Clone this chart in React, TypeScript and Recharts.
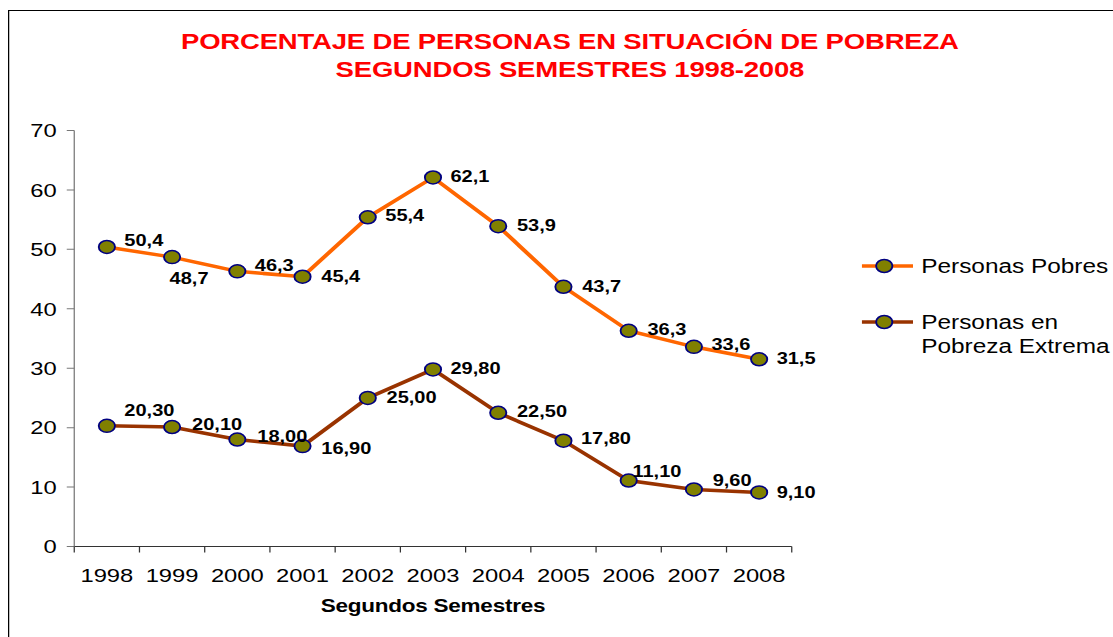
import { LineChart, Line, XAxis, YAxis, Legend, LabelList } from 'recharts'

const years = ['1998', '1999', '2000', '2001', '2002', '2003', '2004', '2005', '2006', '2007', '2008']
const pobres = [50.4, 48.7, 46.3, 45.4, 55.4, 62.1, 53.9, 43.7, 36.3, 33.6, 31.5]
const extrema = [20.3, 20.1, 18.0, 16.9, 25.0, 29.8, 22.5, 17.8, 11.1, 9.6, 9.1]
const yTicks = [0, 10, 20, 30, 40, 50, 60, 70]

const series = [
    { key: 'pobres', name: 'Personas Pobres', color: '#FF6600', decimals: 1 },
    { key: 'extrema', name: 'Personas en Pobreza Extrema', color: '#993300', decimals: 2 },
]

const rows = years.map((year, i) => ({ i, year, pobres: pobres[i], extrema: extrema[i] }))
// ticks at centres (labels) and at category boundaries (tick marks)
const xTicks = [-0.5, ...years.flatMap((_, i) => [i, i + 0.5])]

// label nudges per point, [dx, dy]
const labelNudge: Record<string, [number, number][]> = {
    pobres: [[14, -7], [-2, 21], [14, -6], [15, 0], [14, -2], [14, -1], [15, -1], [15, 0], [15, -1], [14, -2], [14, -1]],
    extrema: [[14, -15], [16, -3], [16, -3], [15, 2], [15, -1], [14, -1], [15, -1], [14, -2], [3, -9], [15, -9], [14, 0]],
}

const font = '"Liberation Sans", Arial, sans-serif'
const dotStyle = { r: 6.5, fill: '#808000', stroke: '#000080', strokeWidth: 1.5 }

const YearTick = (props: any) => {
    const { x, y, payload } = props
    const v = payload.value
    if (Number.isInteger(v)) {
        return (
            <text x={x} y={y + 35.5} textAnchor="middle" fontSize={19} fill="#000" fontFamily={font}>
                {years[v]}
            </text>
        )
    }
    return <line x1={x} x2={x} y1={y} y2={y + 6} stroke="#333" strokeWidth={1} />
}

const makeLabel = (key: string, decimals: number) => (props: any) => {
    const { x, y, value, index } = props
    const [dx, dy] = labelNudge[key][index] ?? [14, 0]
    return (
        <text
            x={x + dx}
            y={y + dy}
            dy="0.35em"
            textAnchor="start"
            fontSize={16}
            fontWeight="bold"
            fill="#000"
            fontFamily={font}
        >
            {Number(value).toFixed(decimals).replace('.', ',')}
        </text>
    )
}

const LegendContent = () => (
    <div style={{ fontSize: 19.5, lineHeight: '24px', color: '#000', fontFamily: font }}>
        {series.map((s, k) => (
            <div key={s.key} style={{ display: 'flex', alignItems: 'flex-start', marginTop: k ? 32 : 0 }}>
                <svg width={48} height={24} style={{ flex: 'none' }}>
                    <line x1={0} x2={41} y1={12} y2={12} stroke={s.color} strokeWidth={3.5} />
                    <circle cx={18} cy={12} {...dotStyle} />
                </svg>
                <div style={{ width: 152 }}>{s.name}</div>
            </div>
        ))}
    </div>
)

export default function App() {
    return (
        <div
            style={{
                position: 'fixed',
                left: 8,
                top: 10,
                width: 884,
                height: 640,
                borderLeft: '1px solid #000',
                borderTop: '1.5px solid #000',
                boxSizing: 'border-box',
                transform: 'scaleX(1.25)',
                transformOrigin: '0 0',
                background: '#fff',
                fontFamily: font,
            }}
        >
            <div
                style={{
                    position: 'absolute',
                    left: 0,
                    top: 16.5,
                    width: 897,
                    textAlign: 'center',
                    color: '#FF0000',
                    fontWeight: 'bold',
                    fontSize: 22,
                    letterSpacing: -0.15,
                    lineHeight: '28.5px',
                }}
            >
                PORCENTAJE DE PERSONAS EN SITUACIÓN DE POBREZA
                <br />
                SEGUNDOS SEMESTRES 1998-2008
            </div>
            <LineChart
                width={881}
                height={625}
                data={rows}
                margin={{ top: 119.5, right: 255, bottom: 49.5, left: 0 }}
            >
                <XAxis
                    type="number"
                    dataKey="i"
                    domain={[-0.5, years.length - 0.5]}
                    ticks={xTicks}
                    interval={0}
                    allowDataOverflow
                    height={40}
                    tickSize={0}
                    tickMargin={0}
                    tickLine={false}
                    axisLine={{ stroke: '#333', strokeWidth: 1 }}
                    tick={<YearTick />}
                />
                <YAxis
                    width={52}
                    domain={[0, 70]}
                    ticks={yTicks}
                    interval={0}
                    tickSize={6}
                    tickMargin={8}
                    axisLine={{ stroke: '#777', strokeWidth: 1 }}
                    tickLine={{ stroke: '#777', strokeWidth: 1 }}
                    tick={{ fontSize: 19, fill: '#000', fontFamily: font }}
                />
                {series.map((s) => (
                    <Line
                        key={s.key}
                        type="linear"
                        dataKey={s.key}
                        name={s.name}
                        stroke={s.color}
                        strokeWidth={3.5}
                        dot={dotStyle}
                        activeDot={false}
                        isAnimationActive={false}
                    >
                        <LabelList dataKey={s.key} content={makeLabel(s.key, s.decimals)} />
                    </Line>
                ))}
                <Legend
                    layout="vertical"
                    align="center"
                    verticalAlign="middle"
                    content={<LegendContent />}
                    wrapperStyle={{ left: 681.6, top: 242.5, width: 205 }}
                />
            </LineChart>
            <div
                style={{
                    position: 'absolute',
                    left: 52,
                    width: 574,
                    top: 584.5,
                    textAlign: 'center',
                    fontWeight: 'bold',
                    fontSize: 18,
                    letterSpacing: -0.2,
                    lineHeight: '20px',
                    color: '#000',
                }}
            >
                Segundos Semestres
            </div>
        </div>
    )
}
